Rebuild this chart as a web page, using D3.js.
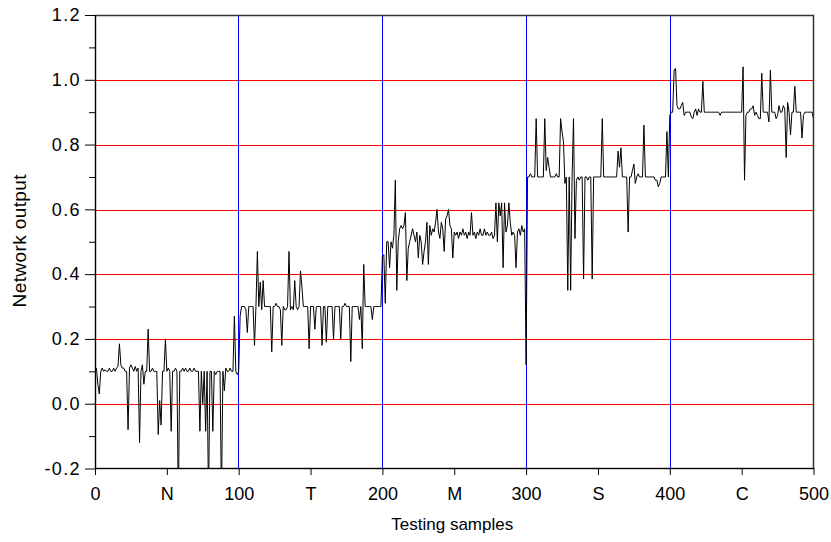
<!DOCTYPE html>
<html>
<head>
<meta charset="utf-8">
<script src="https://cdn.jsdelivr.net/npm/d3@7"></script>
<style>
	body { margin: 0; background: #fff; }
	svg text { font-family: "Liberation Sans", Arial, Helvetica, sans-serif; fill: #000; }
</style>
</head>
<body>
<svg id="graph"></svg>
<script>
// network output per class block (100 testing samples each)
var seg_n = [
	0.10, 0.11, 0.06, 0.03, 0.10, 0.11, 0.10, 0.105, 0.10, 0.10,
	0.11, 0.10, 0.10, 0.11, 0.10, 0.11, 0.115, 0.185, 0.12, 0.11,
	0.11, 0.10, 0.10, -0.08, 0.11, 0.12, 0.11, 0.10, 0.115, 0.10,
	0.11, -0.12, 0.10, 0.12, 0.06, 0.10, 0.10, 0.23, 0.10, 0.10,
	0.11, 0.10, 0.10, 0.10, -0.095, 0.01, -0.066, 0.10, 0.10, 0.20,
	0.10, 0.11, 0.10, -0.085, 0.10, 0.10, 0.11, 0.10, -0.30, 0.10,
	0.10, 0.11, 0.10, 0.11, 0.10, 0.10, 0.11, 0.10, 0.10, 0.11,
	0.10, 0.10, 0.10, -0.085, 0.10, 0.00, 0.10, -0.085, 0.10, -0.30,
	0.10, 0.10, -0.085, 0.10, 0.09, 0.10, 0.10, 0.10, -0.30, 0.10,
	0.04, 0.11, 0.10, 0.10, 0.11, 0.10, 0.10, 0.27, 0.10, 0.09
];
var seg_t = [
	0.10, 0.27, 0.30, 0.30, 0.30, 0.29, 0.22, 0.30, 0.30, 0.30,
	0.30, 0.18, 0.30, 0.47, 0.30, 0.375, 0.29, 0.38, 0.30, 0.30,
	0.30, 0.30, 0.30, 0.16, 0.30, 0.30, 0.31, 0.30, 0.30, 0.29,
	0.18, 0.30, 0.29, 0.29, 0.30, 0.47, 0.29, 0.30, 0.29, 0.38,
	0.30, 0.29, 0.30, 0.41, 0.36, 0.30, 0.30, 0.30, 0.30, 0.17,
	0.30, 0.30, 0.30, 0.23, 0.30, 0.30, 0.30, 0.30, 0.18, 0.30,
	0.30, 0.19, 0.30, 0.30, 0.30, 0.30, 0.20, 0.30, 0.30, 0.30,
	0.30, 0.20, 0.30, 0.30, 0.31, 0.30, 0.30, 0.30, 0.13, 0.30,
	0.30, 0.30, 0.30, 0.30, 0.26, 0.30, 0.17, 0.43, 0.30, 0.30,
	0.30, 0.30, 0.30, 0.26, 0.30, 0.30, 0.30, 0.30, 0.30, 0.30
];
var seg_m = [
	0.455, 0.46, 0.31, 0.50, 0.50, 0.42, 0.50, 0.48, 0.52, 0.69,
	0.35, 0.50, 0.54, 0.55, 0.54, 0.55, 0.59, 0.38, 0.48, 0.50,
	0.52, 0.54, 0.52, 0.50, 0.53, 0.45, 0.52, 0.50, 0.43, 0.47,
	0.50, 0.56, 0.43, 0.55, 0.52, 0.54, 0.53, 0.56, 0.60, 0.53,
	0.51, 0.56, 0.54, 0.47, 0.57, 0.58, 0.60, 0.55, 0.54, 0.45,
	0.53, 0.52, 0.53, 0.51, 0.53, 0.52, 0.54, 0.52, 0.53, 0.51,
	0.53, 0.52, 0.59, 0.52, 0.53, 0.51, 0.53, 0.52, 0.54, 0.52,
	0.52, 0.54, 0.52, 0.53, 0.52, 0.52, 0.53, 0.51, 0.52, 0.62,
	0.50, 0.62, 0.58, 0.62, 0.42, 0.62, 0.53, 0.55, 0.62, 0.56,
	0.52, 0.53, 0.52, 0.42, 0.53, 0.54, 0.52, 0.55, 0.53, 0.54
];
var seg_s = [
	0.12, 0.70, 0.70, 0.71, 0.70, 0.70, 0.70, 0.88, 0.70, 0.70,
	0.70, 0.70, 0.70, 0.88, 0.72, 0.76, 0.73, 0.70, 0.70, 0.70,
	0.70, 0.71, 0.70, 0.70, 0.88, 0.84, 0.81, 0.68, 0.70, 0.35,
	0.70, 0.35, 0.70, 0.88, 0.51, 0.69, 0.70, 0.69, 0.70, 0.70,
	0.385, 0.70, 0.70, 0.69, 0.70, 0.70, 0.385, 0.70, 0.70, 0.70,
	0.70, 0.70, 0.70, 0.88, 0.70, 0.70, 0.70, 0.70, 0.70, 0.70,
	0.70, 0.70, 0.70, 0.70, 0.78, 0.73, 0.79, 0.70, 0.70, 0.70,
	0.70, 0.53, 0.70, 0.70, 0.72, 0.74, 0.68, 0.70, 0.71, 0.70,
	0.70, 0.70, 0.86, 0.70, 0.70, 0.70, 0.70, 0.70, 0.70, 0.70,
	0.69, 0.69, 0.67, 0.68, 0.70, 0.70, 0.70, 0.70, 0.84, 0.70
];
var seg_c = [
	0.89, 0.90, 0.90, 1.03, 1.035, 0.92, 0.91, 0.91, 0.92, 0.93,
	0.89, 0.90, 0.90, 0.90, 0.90, 0.885, 0.88, 0.90, 0.91, 0.89,
	0.91, 0.90, 0.90, 0.995, 0.90, 0.90, 0.90, 0.90, 0.90, 0.90,
	0.90, 0.90, 0.90, 0.90, 0.90, 0.89, 0.90, 0.90, 0.90, 0.90,
	0.90, 0.90, 0.90, 0.90, 0.90, 0.90, 0.90, 0.90, 0.90, 0.90,
	0.90, 1.04, 0.69, 0.89, 0.90, 0.90, 0.91, 0.91, 0.92, 0.89,
	0.90, 0.89, 0.88, 0.88, 1.02, 0.90, 0.90, 0.90, 0.90, 0.87,
	1.03, 0.90, 0.90, 0.90, 0.88, 0.89, 0.92, 0.90, 0.90, 0.92,
	0.91, 0.76, 0.93, 0.90, 0.83, 0.90, 0.90, 0.98, 0.90, 0.90,
	0.90, 0.90, 0.82, 0.89, 0.90, 0.90, 0.90, 0.90, 0.90, 0.90,
	0.88
];

var x_ticks       = [ 0, 50, 100, 150, 200, 250, 300, 350, 400, 450, 500 ];
var x_tick_labels = [ '0', 'N', '100', 'T', '200', 'M', '300', 'S', '400', 'C', '500' ];
var y_ticks       = [ -0.2, 0.0, 0.2, 0.4, 0.6, 0.8, 1.0, 1.2 ];
var y_minor_ticks = [ -0.1, 0.1, 0.3, 0.5, 0.7, 0.9, 1.1 ];
var red_lines     = [ 0.0, 0.2, 0.4, 0.6, 0.8, 1.0 ];
var blue_lines    = [ 100, 200, 300, 400 ];

var margin = { top : 15, right : 17.5, bottom : 73.5, left : 95 };
var full_w = 831, full_h = 542;
var width  = full_w - margin.left - margin.right;
var height = full_h - margin.top  - margin.bottom;

var svg = d3.select( '#graph' )
		.attr( 'width' , full_w )
		.attr( 'height', full_h )
	.append( 'g' )
		.attr( 'transform', 'translate(' + margin.left + ',' + margin.top + ')' );

var x = d3.scaleLinear().domain([ 0, 500 ]).range([ 0, width ]);
var y = d3.scaleLinear().domain([ -0.2, 1.2 ]).range([ height, 0 ]);

// one point per sample, blocks placed one after the other
var data = [];
[ seg_n, seg_t, seg_m, seg_s, seg_c ].forEach(function( seg, k ){
	seg.forEach(function( v, j ){ data.push({ x : k * 100 + j, y : v }); });
});

svg.append( 'clipPath' ).attr( 'id', 'clip' )
	.append( 'rect' ).attr( 'width', width ).attr( 'height', Math.floor( height ) );

// reference lines, snapped to whole pixels
svg.selectAll( '.red-line' )
	.data( red_lines )
	.enter().append( 'line' )
		.attr( 'class', 'red-line' )
		.attr( 'x1', 0 ).attr( 'x2', width )
		.attr( 'y1', d => Math.round( y( d ) + 0.3 ) + 0.5 )
		.attr( 'y2', d => Math.round( y( d ) + 0.3 ) + 0.5 )
		.style( 'stroke', '#ff0000' )
		.style( 'stroke-width', 1 );

svg.selectAll( '.blue-line' )
	.data( blue_lines )
	.enter().append( 'line' )
		.attr( 'class', 'blue-line' )
		.attr( 'x1', d => Math.round( x( d ) - 0.3 ) + 0.5 )
		.attr( 'x2', d => Math.round( x( d ) - 0.3 ) + 0.5 )
		.attr( 'y1', 0 ).attr( 'y2', height )
		.style( 'stroke', '#0000ff' )
		.style( 'stroke-width', 1 );

// the series
var line = d3.line()
	.x(function(d) { return x( d.x ); })
	.y(function(d) { return y( d.y ); });

svg.append( 'path' )
	.attr( 'clip-path', 'url(#clip)' )
	.attr( 'd', line( data ) )
	.style( 'fill', 'none' )
	.style( 'stroke', '#000' )
	.style( 'stroke-width', 1 );

// frame
svg.append( 'rect' )
	.attr( 'x', 0.5 ).attr( 'y', 0.5 )
	.attr( 'width', width - 0.5 ).attr( 'height', Math.floor( height ) )
	.style( 'fill', 'none' )
	.style( 'stroke', '#333' )
	.style( 'stroke-width', 1.5 );

// axes
var y_axis = d3.axisLeft( y ).tickValues( y_ticks ).tickSize( 10 ).tickSizeOuter( 0 ).tickPadding( 4 )
	.tickFormat(function(d){ return d.toFixed( 1 ); });
var y_minor = d3.axisLeft( y ).tickValues( y_minor_ticks ).tickSize( 6 ).tickSizeOuter( 0 ).tickFormat( '' );
var x_axis = d3.axisBottom( x ).tickValues( x_ticks ).tickSize( 7 ).tickSizeOuter( 0 ).tickPadding( 12 )
	.tickFormat(function(d, i){ return x_tick_labels[ i ]; });

svg.append( 'g' ).attr( 'class', 'y axis' ).call( y_minor );
svg.append( 'g' ).attr( 'class', 'y axis' ).call( y_axis );
svg.append( 'g' )
	.attr( 'class', 'x axis' )
	.attr( 'transform', 'translate(0,' + Math.floor( height ) + ')' )
	.call( x_axis );

svg.selectAll( '.axis text' ).style( 'font-size', '18px' ).style( 'font-family', '"Liberation Sans", Arial, sans-serif' );
svg.selectAll( '.y.axis text' ).style( 'letter-spacing', '1.4px' );
svg.selectAll( '.axis line, .axis path' ).style( 'stroke', '#000' );

// titles
svg.append( 'text' )
	.attr( 'x', width / 2 - 2 ).attr( 'y', height + 61 )
	.attr( 'text-anchor', 'middle' )
	.style( 'font-size', '17px' )
	.text( 'Testing samples' );

svg.append( 'text' )
	.attr( 'transform', 'translate(' + ( -69 ) + ',' + ( height / 2 - 1 ) + ') rotate(-90)' )
	.attr( 'text-anchor', 'middle' )
	.style( 'font-size', '19px' )
	.style( 'letter-spacing', '0.4px' )
	.text( 'Network output' );
</script>
</body>
</html>
